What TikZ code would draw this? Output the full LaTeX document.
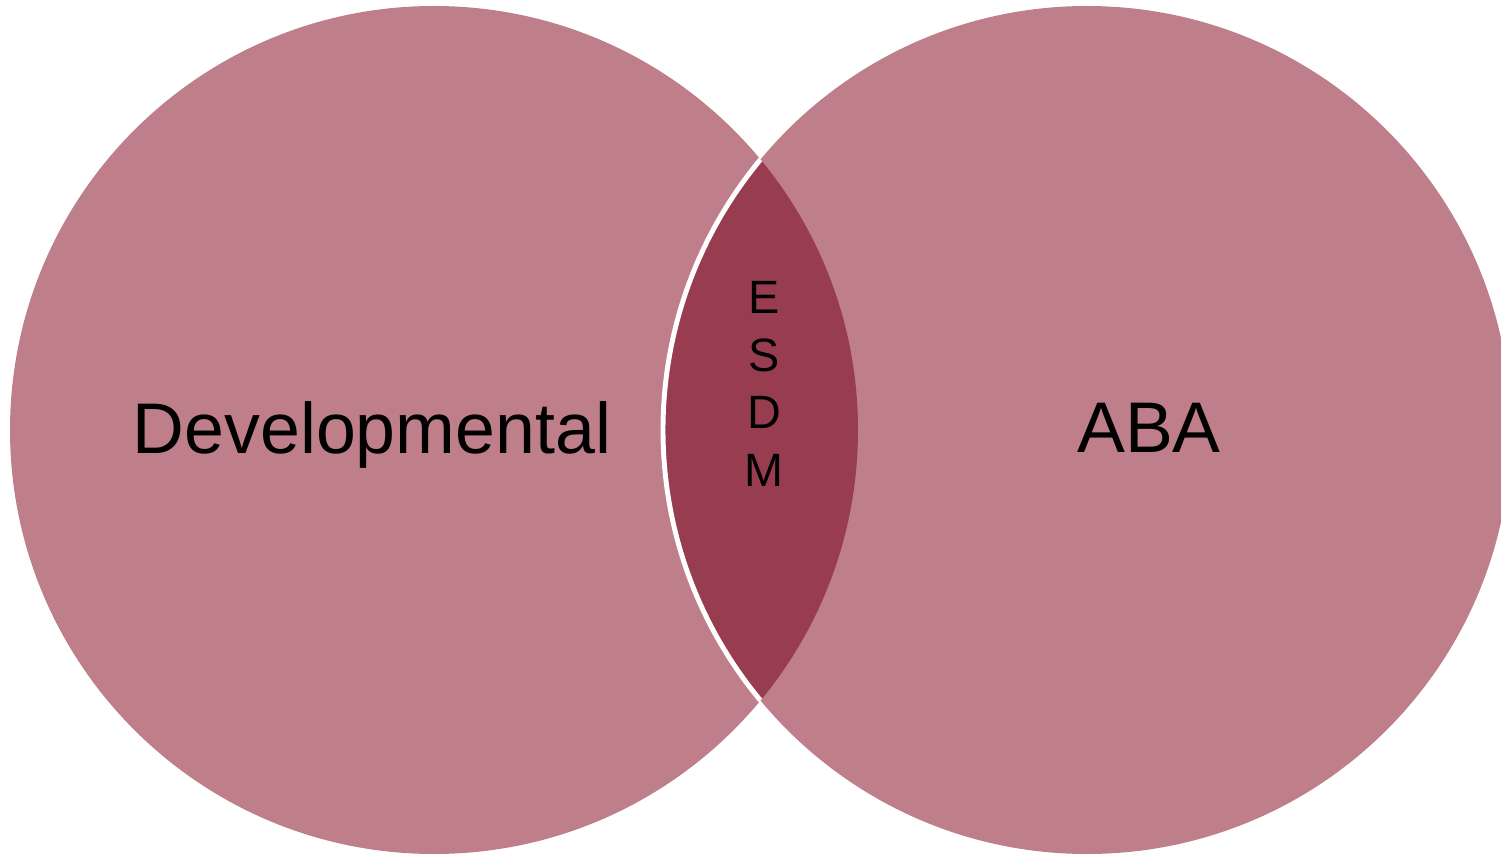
\documentclass[tikz,border=0pt]{standalone}
\usepackage{fontspec}
\setmainfont{Liberation Sans}
\usepackage{tikz}
\definecolor{venn}{HTML}{BE7F8A}
\definecolor{overlap}{HTML}{983D50}

\begin{document}
\begin{tikzpicture}[set/.style={fill=venn,draw=none},
                    lbl/.style={font=\fontsize{20.4}{24}\selectfont,text=black},
                    small/.style={font=\fontsize{13.3}{16.4}\selectfont,align=center,text=black}]

  	\useasboundingbox (0,0) rectangle (15.01,8.54);

  	\coordinate (L) at (4.34,4.24);
	\coordinate (R) at (10.87,4.24);

	\fill[venn] (L) circle (4.24);
	\fill[venn] (R) circle (4.24);

	\begin{scope}
	  \clip (L) circle (4.24);
	  \fill[overlap] (R) circle (4.24);
	  \draw[white,line width=1.4pt] (R) circle (4.24);
	\end{scope}

  	\node[lbl] (dev) at (3.72,4.19)  {Developmental};
	\node[lbl] (aba) at (11.49,4.26) {ABA};
	\node[small] (esdm) at (7.64,4.70) {E\\S\\D\\M};

\end{tikzpicture}
\end{document}
